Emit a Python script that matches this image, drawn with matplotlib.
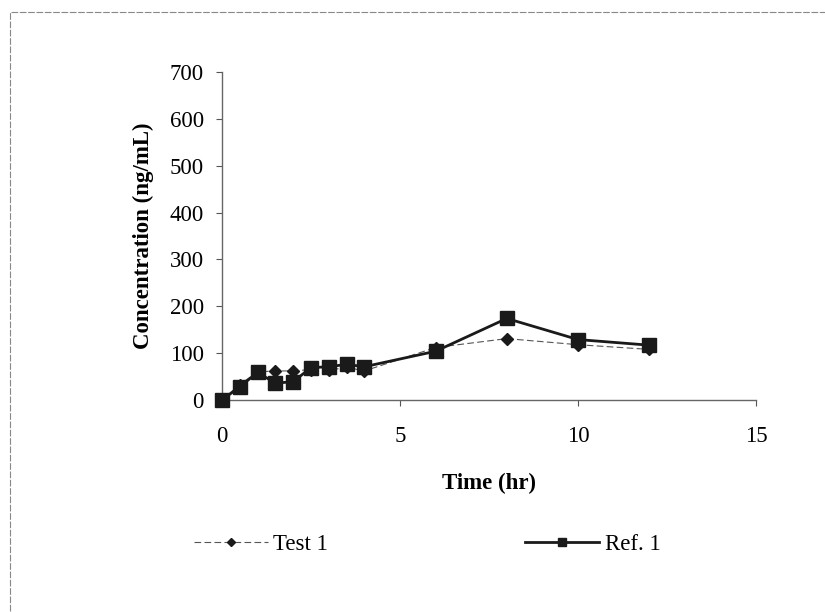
import matplotlib
matplotlib.use("Agg")
import matplotlib.pyplot as plt
from matplotlib.patches import Rectangle

# sampling times (hr) and mean plasma concentrations (ng/mL)
time_hr = [0, 0.5, 1, 1.5, 2, 2.5, 3, 3.5, 4, 6, 8, 10, 12]
test_1 = [0, 33, 60, 62, 62, 65, 63, 70, 62, 112, 131, 118, 108]
ref_1 = [0, 28, 59, 36, 39, 69, 71, 76, 71, 104, 174, 129, 117]

x_ticks = [0, 5, 10, 15]
y_ticks = [0, 100, 200, 300, 400, 500, 600, 700]

plt.rcParams['font.family'] = ['Liberation Serif', 'DejaVu Serif']

fig = plt.figure(figsize=(8.25, 6.12), dpi=100)
ax = fig.add_axes([0.2690, 0.3464, 0.6474, 0.536])

# chart area border
fig.patches.append(Rectangle((0.012, -0.05), 1.1, 0.05 + 0.980, transform=fig.transFigure,
                             fill=False, edgecolor='#888888', linewidth=0.8,
                             linestyle=(0, (6, 1.5))))

ax.plot(time_hr, test_1, color='#555555', linewidth=0.8, linestyle=(0, (6, 3)),
        marker='D', markersize=6.5, markerfacecolor='#1a1a1a', markeredgecolor='#1a1a1a',
        label='Test 1', zorder=3)
ax.plot(time_hr, ref_1, color='#1a1a1a', linewidth=2, linestyle='-',
        marker='s', markersize=10.5, markerfacecolor='#1a1a1a', markeredgecolor='#1a1a1a',
        label='Ref. 1', zorder=4)

ax.set_xlim(0, 15)
ax.set_ylim(0, 700)
ax.set_xticks(x_ticks)
ax.set_yticks(y_ticks)
ax.tick_params(axis='both', labelsize=16.5, length=4, width=0.8, color='#555555',
               direction='out')
ax.tick_params(axis='y', pad=9)
ax.tick_params(axis='x', pad=15)

for side in ['top', 'right']:
    ax.spines[side].set_visible(False)
for side in ['left', 'bottom']:
    ax.spines[side].set_color('#666666')
    ax.spines[side].set_linewidth(1)
for line in ax.lines:
    line.set_clip_on(False)

ax.set_xlabel('Time (hr)', fontsize=16.5, fontweight='bold', labelpad=18)
ax.set_ylabel('Concentration (ng/mL)', fontsize=16.5, fontweight='bold', labelpad=11)

fig.legend(loc='center', bbox_to_anchor=(0.518, 0.11), ncol=2, frameon=False,
           fontsize=16.5, handlelength=3.2, handletextpad=0.26, columnspacing=8.6,
           markerscale=0.6)

fig.savefig('out.png', dpi=100, facecolor='white')
